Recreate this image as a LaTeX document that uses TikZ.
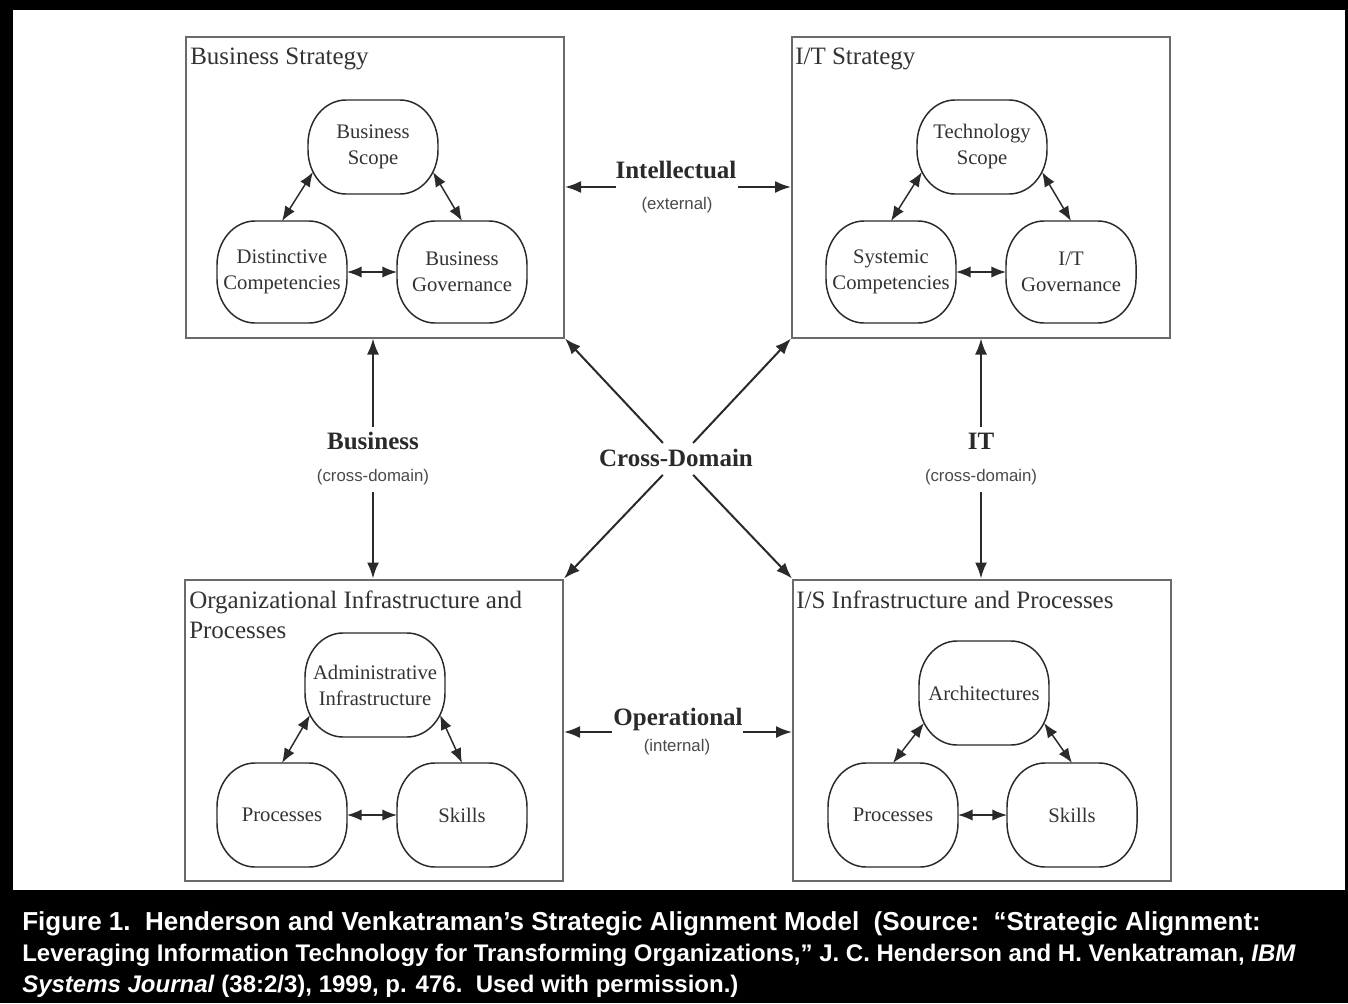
\documentclass[tikz,border=0pt]{standalone}
\usepackage{fontspec}
\setmainfont{Liberation Serif}
\newfontfamily\labelsans{Liberation Sans}
\usepackage{xcolor}
\definecolor{SAMFrame}{HTML}{6A6A6A}
\definecolor{SAMInk}{HTML}{2A2A2A}
\definecolor{SAMText}{HTML}{333333}
\definecolor{SAMMuted}{HTML}{4A4A4A}
\usetikzlibrary{arrows.meta,positioning,calc}

\tikzset{
  domainbox/.style={draw=SAMFrame,line width=1.5pt,minimum width=283.5pt,minimum height=225.75pt,inner sep=0pt},
  domaintitle/.style={anchor=north west,inner sep=0pt,align=left,text=SAMText,font=\fontsize{18.75}{22.5}\selectfont},
  capab/.style={minimum width=97.5pt,minimum height=76.5pt,inner sep=0pt,outer sep=0pt,align=center,text=SAMText,font=\fontsize{15.5}{19.5}\selectfont},
  capedge/.style={draw=SAMInk,line width=1.1pt},
  corner/.style={x radius=28.5pt,y radius=33pt},
  linkarr/.style={SAMInk,line width=1.1pt,{Latex[length=11pt,width=8.5pt]}-{Latex[length=11pt,width=8.5pt]}},
  alignarr/.style={SAMInk,line width=1.5pt,-{Latex[length=12pt,width=9pt]}},
  boldlab/.style={inner sep=0pt,text=SAMInk,font=\fontsize{18.75}{22.5}\selectfont\bfseries},
  sublab/.style={inner sep=0pt,text=SAMMuted,font=\labelsans\fontsize{12.6}{15}\selectfont},
  capline/.style={anchor=base west,inner sep=0pt,text=white,font=\labelsans\bfseries}
}

\begin{document}
\begin{tikzpicture}[x=0.75pt,y=-0.75pt]
  \useasboundingbox (0,0) rectangle (1348,1003);
  \fill[black] (0,0) rectangle (1348,1003);
  \fill[white] (13,10) rectangle (1345,890);

  % the four domains
  \node[domainbox] (bs) at (375,187) {};
  \node[domainbox] (it) at (981,187) {};
  \node[domainbox] (oi) at (374,730) {};
  \node[domainbox] (is) at (982,730) {};
  \node[domaintitle] (bstitle) at ($(bs.north west)+(5,12)$) {Business Strategy};
  \node[domaintitle] (ittitle) at ($(it.north west)+(4,12)$) {I/T Strategy};
  \node[domaintitle] (oititle) at ($(oi.north west)+(5,12)$) {Organizational Infrastructure and\\Processes};
  \node[domaintitle] (istitle) at ($(is.north west)+(4,12)$) {I/S Infrastructure and Processes};

  % components inside each domain
  \node[capab,minimum height=70.5pt] (bscope) at (373,147) {Business\\Scope};
  \node[capab] (bdist) at (282,272) {Distinctive\\Competencies};
  \node[capab] (bgov) at (462,272) {Business\\Governance};

  \node[capab,minimum height=70.5pt] (tscope) at (982,147) {Technology\\Scope};
  \node[capab] (sysc) at (891,272) {Systemic\\Competencies};
  \node[capab] (itgov) at (1071,272) {I/T\\Governance};

  \node[capab,minimum width=105pt,minimum height=78pt] (admin) at (375,685) {Administrative\\Infrastructure};
  \node[capab,minimum height=78pt] (oproc) at (282,815) {Processes};
  \node[capab,minimum height=78pt] (oskill) at (462,815) {Skills};

  \node[capab,minimum height=78pt] (arch) at (984,693) {Architectures};
  \node[capab,minimum height=78pt] (iproc) at (893,815) {Processes};
  \node[capab,minimum height=78pt] (iskill) at (1072,815) {Skills};

  % rounded outlines
  \foreach \n in {bscope,bdist,bgov,tscope,sysc,itgov,admin,oproc,oskill,arch,iproc,iskill}
    \draw[capedge] ($(\n.north west)+(38,0)$) -- ($(\n.north east)+(-38,0)$)
      arc[corner,start angle=90,end angle=0] -- ($(\n.south east)+(0,-44)$)
      arc[corner,start angle=0,end angle=-90] -- ($(\n.south west)+(38,0)$)
      arc[corner,start angle=270,end angle=180] -- ($(\n.north west)+(0,44)$)
      arc[corner,start angle=180,end angle=90] -- cycle;

  \foreach \tp/\lf/\rg in {bscope/bdist/bgov,tscope/sysc/itgov,admin/oproc/oskill,arch/iproc/iskill}{
    \draw[linkarr] ($(\tp.south west)+(5,-22)$) -- (\lf.north);
    \draw[linkarr] ($(\tp.south east)+(-5,-22)$) -- (\rg.north);
    \draw[linkarr] (\lf) -- (\rg);
  }

  % alignment links
  \node[boldlab] (intel) at (676,170) {Intellectual};
  \node[sublab] (extl) at (677,205) {(external)};
  \coordinate (intelL) at (616,187);
  \coordinate (intelR) at (738,187);
  \draw[alignarr] (intelL) -- (intelL -| bs.east);
  \draw[alignarr] (intelR) -- (intelR -| it.west);

  \node[boldlab] (oper) at (678,719) {Operational};
  \node[sublab] (intl) at (677,747) {(internal)};
  \coordinate (operL) at (612,732);
  \coordinate (operR) at (743,732);
  \draw[alignarr] (operL) -- (operL -| oi.east);
  \draw[alignarr] (operR) -- (operR -| is.west);

  \node[boldlab] (busn) at (373,441) {Business};
  \node[sublab] (busx) at (373,477) {(cross-domain)};
  \coordinate (busT) at (373,427);
  \coordinate (busB) at (373,492);
  \draw[alignarr] (busT) -- (busT |- bs.south);
  \draw[alignarr] (busB) -- (busB |- oi.north);

  \node[boldlab] (itl) at (981,441) {IT};
  \node[sublab] (itx) at (981,477) {(cross-domain)};
  \coordinate (itT) at (981,427);
  \coordinate (itB) at (981,492);
  \draw[alignarr] (itT) -- (itT |- it.south);
  \draw[alignarr] (itB) -- (itB |- is.north);

  \node[boldlab] (cross) at (676,458) {Cross-Domain};
  \coordinate (cx) at (678,459);
  \foreach \corner in {bs.south east,it.south west,oi.north east,is.north west}
    \draw[alignarr] ($(cx)!16.5pt!(\corner)$) -- (\corner);

  % caption
  \node[capline] (cap1) at (22,930) {\fontsize{19.5}{23}\selectfont Figure 1.\ \ Henderson and Venkatraman’s Strategic Alignment Model\ \ (Source:\ \ “Strategic Alignment:};
  \node[capline] (cap2) at (22,961) {\fontsize{18}{22}\selectfont Leveraging Information Technology for Transforming Organizations,” J. C. Henderson and H. Venkatraman, \textit{IBM}};
  \node[capline] (cap3) at (22,992) {\fontsize{18}{22}\selectfont\textit{Systems Journal} (38:2/3), 1999, p. 476.\ \ Used with permission.)};
\end{tikzpicture}
\end{document}
